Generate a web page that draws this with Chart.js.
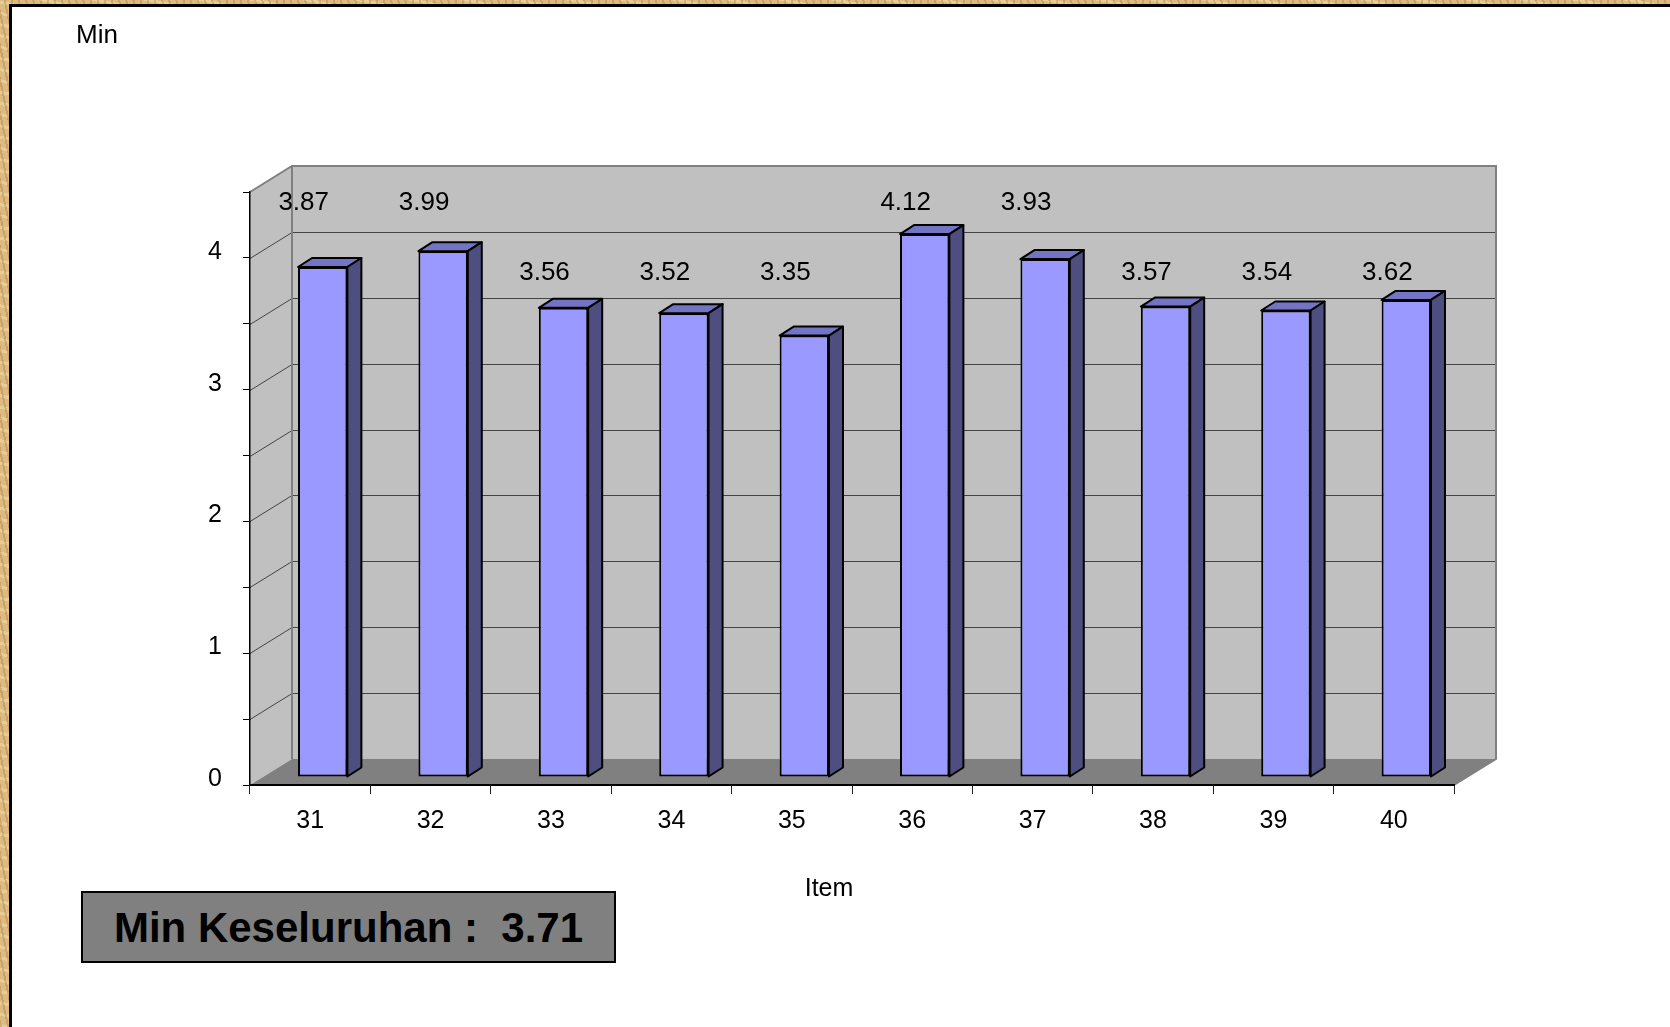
<!DOCTYPE html>
<html>
<head>
<meta charset="utf-8">
<script src="https://cdn.jsdelivr.net/npm/chart.js@4.4.1/dist/chart.umd.min.js"></script>
<style>
  html, body { margin: 0; padding: 0; overflow: hidden; }
  body {
    width: 1670px; height: 1027px; position: relative;
    font-family: "Liberation Sans", Arial, sans-serif;
    background:
      repeating-linear-gradient(78deg, rgba(150,95,35,0.28) 0 2px, transparent 2px 7px),
      repeating-linear-gradient(12deg, rgba(255,236,190,0.35) 0 3px, transparent 3px 11px),
      #DDBB80;
  }
  #panel {
    position: absolute; left: 9px; top: 4px; width: 1700px; height: 1100px;
    background: #fff; border-left: 3px solid #000; border-top: 3px solid #000;
  }
  canvas { position: absolute; left: 0; top: 0; }
  .txt { position: absolute; color: #000; white-space: nowrap; }
  #ytitle { left: 76px; top: 21px; font-size: 26px; line-height: 26px; }
  #xtitle { left: 779px; width: 100px; text-align: center; top: 875px; font-size: 25px; line-height: 25px; }
  #meanbox {
    position: absolute; left: 81px; top: 891px; width: 531px; height: 68px;
    background: #808080; border: 2px solid #000;
    font-weight: bold; font-size: 42px; line-height: 70px; text-align: center;
  }
</style>
</head>
<body>
<div id="panel"></div>
<canvas id="chart" width="1670" height="1027"></canvas>
<div class="txt" id="ytitle">Min</div>
<div class="txt" id="xtitle">Item</div>
<div class="txt" id="meanbox">Min Keseluruhan :&nbsp; 3.71</div>
<script>
const items = ['31', '32', '33', '34', '35', '36', '37', '38', '39', '40'];
const minValues = [3.87, 3.99, 3.56, 3.52, 3.35, 4.12, 3.93, 3.57, 3.54, 3.62];
const yTicks = [0, 1, 2, 3, 4];

const DX = 42, DY = -26;        // depth of the 3D box
const BX = 12.5, BY = -8;       // bars sit a little behind the front plane
const SX = 14, SY = -9;         // depth of each bar

function poly(ctx, pts, fill, stroke, lw) {
  ctx.beginPath();
  ctx.moveTo(pts[0][0], pts[0][1]);
  for (let i = 1; i < pts.length; i++) ctx.lineTo(pts[i][0], pts[i][1]);
  ctx.closePath();
  if (fill) { ctx.fillStyle = fill; ctx.fill(); }
  if (stroke) { ctx.strokeStyle = stroke; ctx.lineWidth = lw || 1; ctx.stroke(); }
}

const box3d = {
  id: 'box3d',
  beforeDraw(chart) {
    const ctx = chart.ctx;
    const y = chart.scales.y;
    const a = chart.chartArea;
    const L = a.left, R = a.right, T = y.getPixelForValue(4.5), B = y.getPixelForValue(0);
    ctx.save();
    // side wall
    poly(ctx, [[L, T], [L + DX, T + DY], [L + DX, B + DY], [L, B]], '#C0C0C0');
    // back wall
    poly(ctx, [[L + DX, T + DY], [R + DX, T + DY], [R + DX, B + DY], [L + DX, B + DY]], '#C0C0C0');
    // floor
    poly(ctx, [[L, B], [R, B], [R + DX, B + DY], [L + DX, B + DY]], '#808080');
    // grid lines
    ctx.strokeStyle = '#444';
    ctx.lineWidth = 1;
    for (let v = 0.5; v < 4.5; v += 0.5) {
      const py = Math.round(y.getPixelForValue(v)) + 0.5;
      ctx.beginPath();
      ctx.moveTo(L, py);
      ctx.lineTo(L + DX, py + DY);
      ctx.lineTo(R + DX, py + DY);
      ctx.stroke();
    }
    // edges
    ctx.strokeStyle = '#808080';
    ctx.lineWidth = 2;
    ctx.beginPath();
    ctx.moveTo(L, T);
    ctx.lineTo(L + DX, T + DY);
    ctx.lineTo(R + DX, T + DY);
    ctx.lineTo(R + DX, B + DY);
    ctx.lineTo(R, B);
    ctx.moveTo(L + DX, T + DY);
    ctx.lineTo(L + DX, B + DY);
    ctx.stroke();
    ctx.restore();
  },
  beforeDatasetsDraw(chart) {
    chart.ctx.save();
    chart.ctx.translate(BX, BY);
  },
  afterDatasetsDraw(chart) {
    const ctx = chart.ctx;
    chart.getDatasetMeta(0).data.forEach((bar) => {
      const l = bar.x - bar.width / 2, r = bar.x + bar.width / 2;
      ctx.lineJoin = 'round';
      poly(ctx, [[l, bar.y], [r, bar.y], [r + SX, bar.y + SY], [l + SX, bar.y + SY]], '#7474C4', '#000', 2);
      poly(ctx, [[r, bar.y], [r + SX, bar.y + SY], [r + SX, bar.base + SY], [r, bar.base]], '#4E4E80', '#000', 2);
    });
    ctx.restore();
    // value labels
    const x = chart.scales.x, y = chart.scales.y;
    ctx.save();
    ctx.fillStyle = '#000';
    ctx.font = '26px "Liberation Sans", Arial, sans-serif';
    ctx.textAlign = 'center';
    ctx.textBaseline = 'middle';
    minValues.forEach((v, i) => {
      const ly = y.getPixelForValue(v >= 3.8 ? 4.42 : 3.89);
      ctx.fillText(v.toFixed(2), x.getPixelForValue(i) - 6.5, ly);
    });
    ctx.restore();
  }
};

const tickFont = { family: '"Liberation Sans", Arial, sans-serif', size: 25 };

new Chart(document.getElementById('chart'), {
  type: 'bar',
  data: {
    labels: items,
    datasets: [{
      label: 'Min',
      data: minValues,
      backgroundColor: '#9999FF',
      borderColor: '#000',
      borderWidth: 2,
      borderSkipped: false,
      categoryPercentage: 1,
      barPercentage: 0.41
    }]
  },
  options: {
    responsive: false,
    devicePixelRatio: 1,
    animation: false,
    layout: { padding: { left: 0, top: 192, right: 216, bottom: 142 } },
    plugins: { legend: { display: false }, tooltip: { enabled: false } },
    scales: {
      x: {
        offset: true,
        grid: { offset: true, drawOnChartArea: false, tickLength: 9, tickColor: '#222', tickWidth: 1 },
        border: { color: '#000', width: 2 },
        ticks: { font: tickFont, color: '#000', padding: 12, maxRotation: 0 },
        afterFit(s) { s.height = 100; }
      },
      y: {
        min: 0,
        max: 4.5,
        grid: { drawOnChartArea: false, tickLength: 7, tickColor: '#000', tickWidth: 1 },
        border: { color: '#000', width: 1.5 },
        ticks: {
          stepSize: 0.5,
          font: tickFont,
          color: '#000',
          padding: 21,
          labelOffset: -6,
          callback: (v) => (yTicks.includes(v) ? String(v) : '')
        },
        afterFit(s) { s.width = 250; }
      }
    }
  },
  plugins: [box3d]
});
</script>
</body>
</html>
